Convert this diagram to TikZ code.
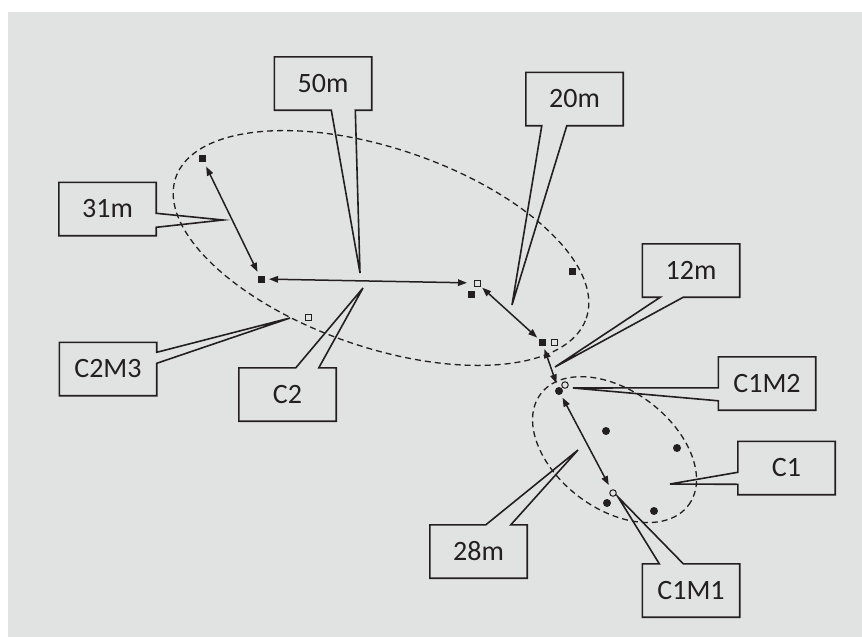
\documentclass[tikz,border=0pt]{standalone}
\usepackage{fontspec}
\setmainfont{Carlito}
\usetikzlibrary{arrows.meta,calc}
\definecolor{bg}{HTML}{E1E3E2}
\definecolor{ink}{HTML}{231F20}
\begin{document}
\begin{tikzpicture}[x=1pt,y=-1pt,
  lbl/.style={rectangle, minimum width=97pt, minimum height=53pt, inner sep=0pt,
    font=\fontsize{28}{30}\selectfont, text=ink},
  callout/.style={draw=ink, line width=1.6pt, line join=miter},
  cluster/.style={draw=ink, line width=1.3pt, dash pattern=on 6pt off 4pt},
  fsq/.style={rectangle, fill=ink, minimum size=7pt, inner sep=0pt},
  osq/.style={rectangle, draw=ink, line width=1pt, fill=bg, minimum size=6pt, inner sep=0pt},
  fci/.style={circle, fill=ink, minimum size=8pt, inner sep=0pt},
  oci/.style={circle, draw=ink, line width=1pt, fill=bg, minimum size=6.5pt, inner sep=0pt},
  arr/.style={draw=ink, line width=1.5pt,
    {Triangle[length=9pt,width=6.5pt]}-{Triangle[length=9pt,width=6.5pt]}}
]
\useasboundingbox (0,0) rectangle (862,637);
\fill[white] (0,0) rectangle (862,637);
\fill[bg] (8,12) rectangle (862,637);

% cluster outlines
\coordinate (e2c) at (381,248);
\coordinate (e1c) at (614.5,449.5);
\draw[cluster, rotate around={-18.9:(e2c)}] (e2c) ellipse [x radius=217pt, y radius=99.4pt];
\draw[cluster, rotate around={-37:(e1c)}] (e1c) ellipse [x radius=92.5pt, y radius=59pt];

% label boxes
\node[lbl] (b50) at (323,83.5) {50m};
\node[lbl] (b31) at (107.5,209) {31m};
\node[lbl] (b20) at (574.5,99) {20m};
\node[lbl] (b12) at (691,270.5) {12m};
\node[lbl] (bc1m2) at (767,383.5) {C1M2};
\node[lbl] (bc1) at (786.5,468) {C1};
\node[lbl] (b28) at (478.5,551.5) {28m};
\node[lbl] (bc1m1) at (691,590.5) {C1M1};
\node[lbl] (bc2m3) at (108,369) {C2M3};
\node[lbl] (bc2) at (287.5,394.5) {C2};

% pointer tips
\coordinate (t50) at (360,273);
\coordinate (t31) at (223,220);
\coordinate (t20) at (512,305);
\coordinate (t12) at (555,367);
\coordinate (tc1m2) at (573,388);
\coordinate (tc1) at (670,484);
\coordinate (t28) at (578,450);
\coordinate (tc1m1) at (618,497);
\coordinate (tc2m3) at (290,318);
\coordinate (tc2) at (363,288);

% callouts with bottom pointers
\draw[callout] (b50.north west) -- (b50.north east) -- (b50.south east)
  -- ($(b50.south west)+(81,0)$) -- (t50) -- ($(b50.south west)+(57,0)$) -- (b50.south west) -- cycle;
\draw[callout] (b20.north west) -- (b20.north east) -- (b20.south east)
  -- ($(b20.south west)+(41,0)$) -- (t20) -- ($(b20.south west)+(16,0)$) -- (b20.south west) -- cycle;
\draw[callout] (b12.north west) -- (b12.north east) -- (b12.south east)
  -- ($(b12.south west)+(41,0)$) -- (t12) -- ($(b12.south west)+(18,0)$) -- (b12.south west) -- cycle;
% callouts with top pointers
\draw[callout] (b28.south west) -- (b28.south east) -- (b28.north east)
  -- ($(b28.north west)+(81,0)$) -- (t28) -- ($(b28.north west)+(56,0)$) -- (b28.north west) -- cycle;
\draw[callout] (bc1m1.south west) -- (bc1m1.south east) -- (bc1m1.north east)
  -- ($(bc1m1.north west)+(41,0)$) -- (tc1m1) -- ($(bc1m1.north west)+(17,0)$) -- (bc1m1.north west) -- cycle;
\draw[callout] (bc2.south west) -- (bc2.south east) -- (bc2.north east)
  -- ($(bc2.north west)+(80,0)$) -- (tc2) -- ($(bc2.north west)+(57,0)$) -- (bc2.north west) -- cycle;
% callouts with right pointers
\draw[callout] (b31.north west) -- (b31.north east) -- ($(b31.north east)+(0,31)$) -- (t31)
  -- ($(b31.north east)+(0,45)$) -- (b31.south east) -- (b31.south west) -- cycle;
\draw[callout] (bc2m3.north west) -- (bc2m3.north east) -- ($(bc2m3.north east)+(0,10)$) -- (tc2m3)
  -- ($(bc2m3.north east)+(0,21)$) -- (bc2m3.south east) -- (bc2m3.south west) -- cycle;
% callouts with left pointers
\draw[callout] (bc1m2.north east) -- (bc1m2.north west) -- ($(bc1m2.north west)+(0,31)$) -- (tc1m2)
  -- ($(bc1m2.north west)+(0,44)$) -- (bc1m2.south west) -- (bc1m2.south east) -- cycle;
\draw[callout] (bc1.north east) -- (bc1.north west) -- ($(bc1.north west)+(0,31)$) -- (tc1)
  -- ($(bc1.north west)+(0,43)$) -- (bc1.south west) -- (bc1.south east) -- cycle;

% measurement points
\node[fsq] (s1) at (202,158) {};
\node[fsq] (s2) at (261,279) {};
\node[fsq] (s3) at (471,294) {};
\node[fsq] (s4) at (572,271) {};
\node[fsq] (s5) at (542,342) {};
\node[osq] (o1) at (477,283) {};
\node[osq] (o2) at (554,342) {};
\node[osq] (o3) at (308,317) {};
\node[fci] (c1) at (559,391) {};
\node[fci] (c2) at (606,431) {};
\node[fci] (c3) at (677,448) {};
\node[fci] (c4) at (607,503) {};
\node[fci] (c5) at (654,511) {};
\node[oci] (oc1) at (565,385) {};
\node[oci] (oc2) at (613,493) {};

% distance arrows
\draw[arr, shorten <=9.5pt, shorten >=8pt] (s1.center) -- (s2.center);
\draw[arr, shorten <=8pt, shorten >=10pt] (s2.center) -- (o1.center);
\draw[arr, shorten <=7pt, shorten >=6.5pt] (o1.center) -- (s5.center);
\draw[arr, shorten <=7.5pt, shorten >=8pt] (s5.center) -- (c1.center);
\draw[arr, shorten <=7.5pt, shorten >=9pt] (c1.center) -- (oc2.center);
\end{tikzpicture}
\end{document}
